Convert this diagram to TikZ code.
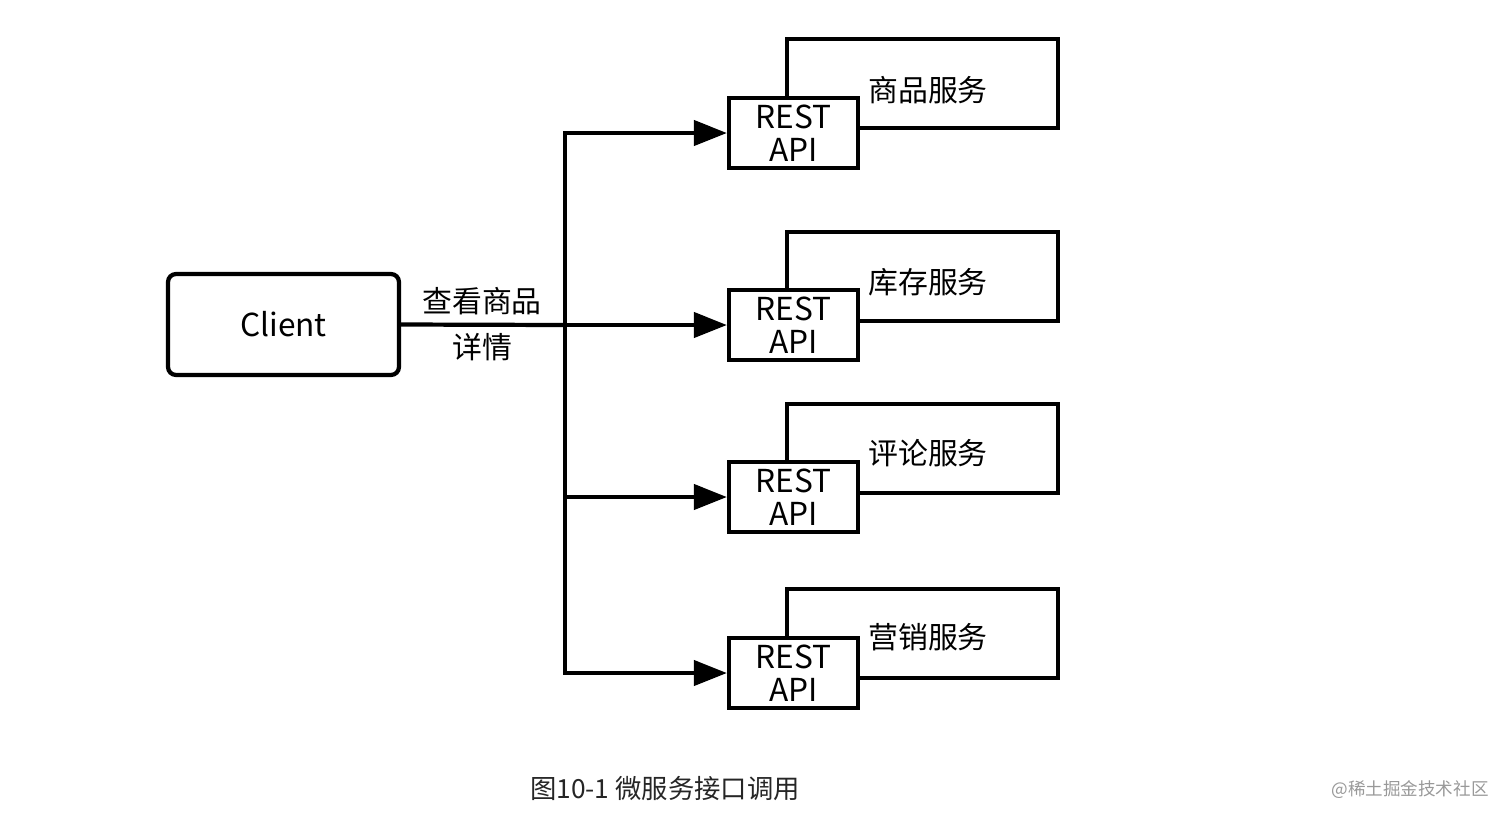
\documentclass[tikz,border=0pt]{standalone}
\usepackage{fontspec}
\setmainfont{Noto Sans CJK SC}
\usetikzlibrary{arrows.meta}
\tikzset{
  client/.style={draw, line width=2.4pt, rounded corners=0.16cm, minimum width=4.62cm, minimum height=2.02cm, font=\fontsize{18}{20}\selectfont},
  svcbox/.style={draw, line width=2.4pt, minimum width=5.42cm, minimum height=1.78cm},
  restbox/.style={draw, line width=2.4pt, fill=white, minimum width=2.58cm, minimum height=1.40cm, align=center, inner sep=0pt, font=\fontsize{18}{19}\selectfont},
  txt/.style={font=\fontsize{17}{19}\selectfont, inner sep=0pt},
  wire/.style={line width=2.4pt},
  arr/.style={line width=2.4pt, -{Triangle[length=0.66cm,width=0.5cm]}}
}
\begin{document}
\begin{tikzpicture}[x=0.02cm, y=-0.02cm]
\useasboundingbox (0,0) rectangle (1512,823);
% client and request
\node[client] (client) at (283.5,324.5) {Client};
\coordinate (fork) at (565,325);
\node[txt] (lblA) at (482,301) {查看商品};
\node[txt] (lblB) at (482,347) {详情};
% services behind the api boxes
\node[svcbox] (svc1) at (922.5,83.5) {};
\node[svcbox] (svc2) at (922.5,276.5) {};
\node[svcbox] (svc3) at (922.5,448.5) {};
\node[svcbox] (svc4) at (922.5,633.5) {};
\node[txt] (name1) at (928,90) {商品服务};
\node[txt] (name2) at (928,282) {库存服务};
\node[txt] (name3) at (928,453) {评论服务};
\node[txt] (name4) at (928,637) {营销服务};
% rest api boxes
\node[restbox] (rest1) at (793.5,133) {REST\\API};
\node[restbox] (rest2) at (793.5,325) {REST\\API};
\node[restbox] (rest3) at (793.5,497) {REST\\API};
\node[restbox] (rest4) at (793.5,673) {REST\\API};
% calls
\draw[wire] (client.east) -- (fork);
\draw[arr] (fork) |- (rest1.west);
\draw[arr] (fork) -- (rest2.west);
\draw[arr] (fork) |- (rest3.west);
\draw[arr] (fork) |- (rest4.west);
% caption
\node[font=\fontsize{15}{17}\selectfont, text=black!85] (caption) at (665,789) {图10-1 微服务接口调用};
\node[font=\fontsize{10}{12}\selectfont, text=black!40] (mark) at (1410,790) {@稀土掘金技术社区};
\end{tikzpicture}
\end{document}
